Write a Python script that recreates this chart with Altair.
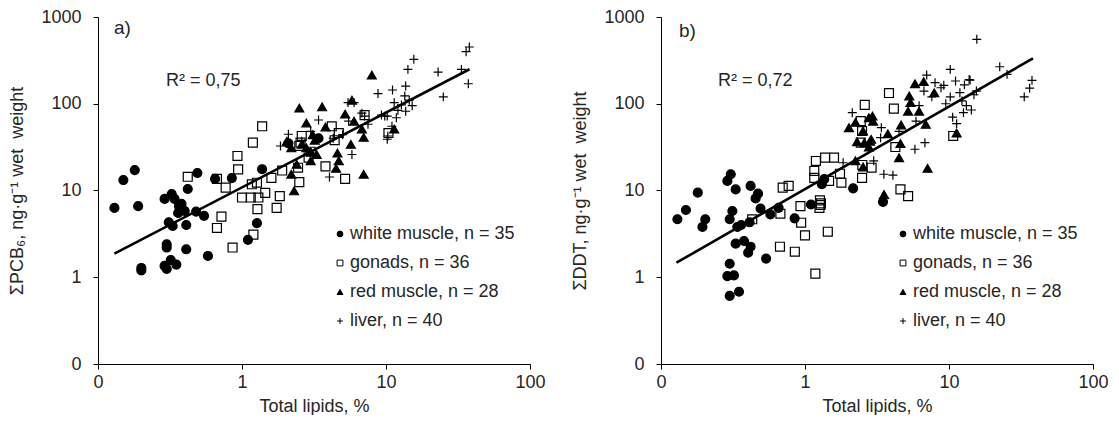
import altair as alt
import pandas as pd

SERIES = ["white muscle, n = 35", "gonads, n = 36", "red muscle, n = 28", "liver, n = 40"]
SHAPES = ["circle", "square", "triangle-up", "M-1,0H1M0,-1V1"]
FILLS = ["black", "transparent", "black", "transparent"]
STROKES = ["black", "black", "black", "black"]

# ---- panel a) sum PCB6 ----
white_a_x = [0.13, 0.15, 0.18, 0.19, 0.20, 0.20, 0.29, 0.325, 0.34, 0.38, 0.40, 0.42, 0.48, 0.545, 0.31,
             0.33, 0.41, 0.30, 0.30, 0.41, 0.29, 0.32, 0.35, 0.30, 0.58, 0.49, 0.65, 0.85, 1.38, 1.27,
             1.1, 2.1, 3.4, 0.365, 0.36]
white_a_y = [6.3, 13.2, 17.2, 6.6, 1.28, 1.2, 8.0, 9.1, 8.0, 7.0, 5.8, 10.4, 5.7, 5.1, 4.3,
             3.9, 4.0, 2.4, 2.2, 2.1, 1.35, 1.58, 1.4, 1.25, 1.76, 15.9, 13.6, 13.9, 17.6, 4.2,
             2.7, 35, 40, 6.6, 5.5]
gonads_a_x = [1.38, 1.19, 0.93, 0.94, 0.42, 0.67, 0.77, 1.17, 1.27, 1.6, 1.0, 1.15, 1.3, 1.45, 1.83,
              1.28, 1.74, 0.72, 0.67, 0.86, 1.2, 2.45, 2.5, 3.8, 5.2, 2.6, 4.2, 4.7, 4.4, 2.5,
              10.4, 2.55, 2.9, 7.1, 1.9, 3.0]
gonads_a_y = [55, 35.6, 25, 17.5, 14.4, 13.6, 10.8, 11.8, 12.3, 14, 8.3, 8.3, 8.3, 9.4, 8.6,
              6.1, 6.3, 5.0, 3.7, 2.2, 3.1, 18.3, 12.5, 19, 13.6, 42.5, 55, 46, 38, 32.6,
              46, 35.6, 23.9, 74, 17, 28]
red_a_x = [7.97, 2.5, 3.6, 5.8, 5.2, 2.8, 3.8, 3.1, 6.0, 6.8, 7.0, 2.2, 2.8, 5.7, 4.6, 4.7, 2.2,
           2.3, 7.0, 3.0, 11.4, 2.05, 3.0, 2.6, 3.3, 4.5, 2.4, 3.2]
red_a_y = [214, 89, 92, 110, 76, 60, 54, 44, 63, 51, 41, 31, 31, 34, 27, 22, 15.4,
           9.9, 15.4, 28, 51, 37, 22, 34, 26, 18, 20, 38]
liver_a_x = [37.9, 36, 15.6, 14.2, 23, 33.4, 37.3, 25, 8.8, 11.1, 13.7, 13.5, 11.4, 12.8, 15.2,
             12.1, 13.7, 11.8, 9.3, 10.2, 5.45, 3.4, 10.2, 5.8, 4.05, 2.1, 1.85, 5.5, 6.0, 6.8,
             7.1, 9.8, 10.3, 2.6, 3.0, 4.3, 7.5, 11.0, 14.5, 5.0]
liver_a_y = [451, 398, 325, 249, 232, 249, 170, 120, 131, 144, 160, 123, 103, 97, 95,
             84, 82, 69, 74, 72, 103, 65, 39, 26, 14.3, 44.5, 32.6, 63, 103, 78,
             72, 72, 42.5, 37, 48, 40, 58, 55, 110, 44]
fit_a_x = [0.13, 38]
fit_a_y = [1.87, 250]

# ---- panel b) sum DDT ----
white_b_x = [0.13, 0.149, 0.18, 0.194, 0.203, 0.305, 0.289, 0.33, 0.313, 0.30, 0.339, 0.419, 0.472,
             0.454, 0.491, 0.575, 0.412, 0.33, 0.377, 0.419, 0.403, 0.537, 0.30, 0.289, 0.321, 0.30,
             0.348, 0.656, 0.847, 1.10, 1.31, 1.36, 2.16, 3.48, 0.36]
white_b_y = [4.66, 5.96, 9.44, 3.8, 4.66, 15.4, 12.9, 10.3, 5.8, 4.66, 3.8, 11.3, 9.2,
             8.1, 6.2, 5.3, 4.3, 2.44, 2.62, 2.25, 1.92, 1.64, 1.43, 1.03, 1.05, 0.61,
             0.68, 6.3, 4.78, 6.9, 11.8, 13.5, 10.6, 7.4, 4.0]
gonads_b_x = [0.43, 0.675, 0.70, 0.77, 0.67, 0.85, 0.93, 0.94, 1.0, 1.18, 1.44, 1.16, 1.16, 1.19,
              1.38, 1.59, 1.27, 1.29, 1.26, 1.47, 1.75, 1.79, 3.83, 2.6, 4.14, 2.44, 2.49, 2.44,
              2.5, 2.9, 2.49, 4.24, 4.6, 5.2, 10.7, 1.28]
gonads_b_y = [4.66, 5.4, 10.8, 11.3, 2.25, 1.97, 6.6, 4.25, 3.04, 1.1, 3.35, 16.8, 14, 21.9,
              23.9, 23.9, 7.7, 7.1, 6.3, 12.9, 15.6, 12.3, 133, 97, 88, 63, 48.5, 35.6,
              19.7, 18.3, 14, 31.7, 10.3, 8.6, 42.5, 6.8]
red_b_x = [5.81, 6.67, 7.9, 5.3, 5.4, 5.2, 6.2, 6.9, 4.65, 2.78, 2.94, 2.97, 2.02, 2.24, 2.53,
           2.3, 2.58, 2.83, 2.88, 2.78, 3.76, 4.6, 4.5, 2.24, 2.53, 7.1, 3.54, 11.3]
red_b_y = [170, 180, 134, 123, 103, 82, 82, 58, 57, 69, 72, 63, 53, 61, 48.5,
           36.5, 35.6, 37, 38.9, 31.7, 45, 34.7, 23.9, 22, 18.7, 18, 9.0, 46]
liver_b_x = [15.6, 22.5, 25.3, 37.7, 36.3, 33.3, 10.2, 7.0, 11.1, 13.8, 14.0, 9.2, 8.8, 6.7, 7.6,
             10.2, 11.9, 14.9, 12.3, 12.6, 14.3, 11.3, 2.13, 3.39, 3.35, 5.8, 6.8, 3.53, 4.08, 1.84,
             5.9, 8.0, 12.8, 9.5, 13.2, 15.5, 6.2, 4.5, 3.0, 10.6]
liver_b_y = [553, 267, 218, 186, 151, 120, 249, 214, 183, 190, 187, 163, 153, 140, 120,
             120, 134, 127, 108, 79, 84.7, 59, 78.9, 53, 40.6, 29.9, 35.6, 15.4, 15.0, 20.9,
             63, 175, 165, 100, 95, 140, 95, 48, 22, 70]
fit_b_x = [0.128, 38.3]
fit_b_y = [1.47, 334]

X_TICKS = [0.1, 1, 10, 100]
Y_TICKS = [0.1, 1, 10, 100, 1000]
X_TITLE = "Total lipids, %"
Y_TITLE_A = "\u03a3PCB\u2086, ng\u00b7g\u207b\u00b9 wet\u00a0 weight"
Y_TITLE_B = "\u03a3DDT, ng\u00b7g\u207b\u00b9 wet\u00a0 weight"

FONT = "Liberation Sans"
TXT = "#262626"
W, H = 432, 347


def build_df(xs, ys):
    rows = []
    for s, xl, yl in zip(SERIES, xs, ys):
        for x, y in zip(xl, yl):
            rows.append({"series": s, "lipids": x, "conc": y})
    return pd.DataFrame(rows)


def panel(df, fx, fy, ytitle, letter, letter_pos, r2, r2_pos):
    xscale = alt.Scale(type="log", domain=[0.1, 100], nice=False)
    yscale = alt.Scale(type="log", domain=[0.1, 1000], nice=False)
    lab = "datum.value < 0.5 ? '0' : format(datum.value, 'd')"
    xaxis = alt.Axis(values=X_TICKS, labelExpr=lab, grid=False, tickSize=5, labelFlush=False,
                     labelPadding=4, titlePadding=6, labelOverlap=False)
    yaxis = alt.Axis(values=Y_TICKS, labelExpr=lab, grid=False, tickSize=5, labelPadding=12,
                     titlePadding=14, labelOverlap=False)
    leg = alt.Legend(title=None, orient="none", legendX=233, legendY=208, padding=0,
                     rowPadding=11, symbolSize=34, symbolStrokeWidth=1, labelOffset=1,
                     labelFontSize=18, labelFont=FONT, labelColor=TXT, labelLimit=400)
    pts = alt.Chart(df).mark_point(filled=True, opacity=1, size=80, strokeWidth=1.2).encode(
        x=alt.X("lipids:Q", scale=xscale, axis=xaxis, title=X_TITLE),
        y=alt.Y("conc:Q", scale=yscale, axis=yaxis, title=ytitle),
        shape=alt.Shape("series:N", scale=alt.Scale(domain=SERIES, range=SHAPES), legend=leg),
        fill=alt.Fill("series:N", scale=alt.Scale(domain=SERIES, range=FILLS), legend=leg),
        stroke=alt.Stroke("series:N", scale=alt.Scale(domain=SERIES, range=STROKES), legend=leg),
    )
    fit = alt.Chart(pd.DataFrame({"lipids": fx, "conc": fy})).mark_line(
        color="black", strokeWidth=2.6).encode(x="lipids:Q", y="conc:Q")
    t1 = alt.Chart(pd.DataFrame({"t": [letter]})).mark_text(
        align="left", baseline="middle", fontSize=19, font=FONT, color=TXT).encode(
        text="t:N", x=alt.value(letter_pos[0]), y=alt.value(letter_pos[1]))
    t2 = alt.Chart(pd.DataFrame({"t": [r2]})).mark_text(
        align="left", baseline="middle", fontSize=18, font=FONT, color=TXT).encode(
        text="t:N", x=alt.value(r2_pos[0]), y=alt.value(r2_pos[1]))
    return alt.layer(pts, fit, t1, t2).properties(width=W, height=H)


df_a = build_df([white_a_x, gonads_a_x, red_a_x, liver_a_x], [white_a_y, gonads_a_y, red_a_y, liver_a_y])
df_b = build_df([white_b_x, gonads_b_x, red_b_x, liver_b_x], [white_b_y, gonads_b_y, red_b_y, liver_b_y])

pa = panel(df_a, fit_a_x, fit_a_y, Y_TITLE_A, "a)", (16, 11), "R\u00b2 = 0,75", (68, 64))
pb = panel(df_b, fit_b_x, fit_b_y, Y_TITLE_B, "b)", (18, 14), "R\u00b2 = 0,72", (57, 64))

chart = alt.hconcat(pa, pb, spacing=25).resolve_scale(
    shape="independent", fill="independent", stroke="independent",
    x="independent", y="independent"
).resolve_legend(shape="independent", fill="independent", stroke="independent").properties(
    padding={"left": 0, "top": 0, "right": 0, "bottom": 0}
).configure_view(stroke=None).configure_axis(
    labelFont=FONT, titleFont=FONT, labelFontSize=18, titleFontSize=18,
    titleFontWeight="normal", labelColor=TXT, titleColor=TXT,
    domainColor="black", tickColor="black", domainWidth=1, tickWidth=1
)

chart.save("out.html", embed_options={"renderer": "svg", "actions": False})
